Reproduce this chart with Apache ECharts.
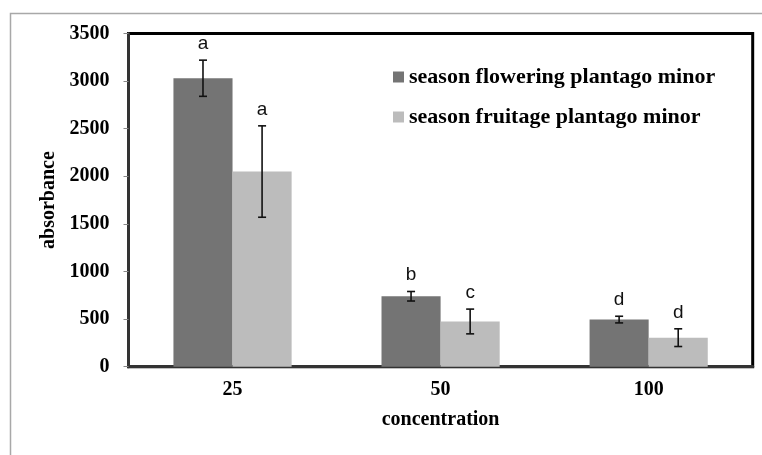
<!DOCTYPE html>
<html>
<head>
<meta charset="utf-8">
<script src="https://cdn.jsdelivr.net/npm/echarts@6/dist/echarts.min.js"></script>
<style>html,body{margin:0;padding:0;background:#fff}#c{width:762px;height:455px}</style>
</head>
<body>
<div id="c"></div>
<script>
var categories = ['25', '50', '100'];
var seriesNames = ['season flowering plantago minor', 'season fruitage plantago minor'];
var flowering = [3030, 740, 495];
var fruitage = [2050, 475, 305];
var floweringErr = [190, 50, 35];
var fruitageErr = [480, 130, 93];
var floweringLetters = ['a', 'b', 'd'];
var fruitageLetters = ['a', 'c', 'd'];
var yTicks = [0, 500, 1000, 1500, 2000, 2500, 3000, 3500];

var colors = ['#747474', '#bcbcbc'];
var serif = '"Liberation Serif", "Times New Roman", serif';

function errData(vals, errs, letters) {
  return vals.map(function (v, i) { return [i, v, errs[i], letters[i]]; });
}

function makeRender(side) {
  return function (params, api) {
    var idx = api.value(0);
    var v = api.value(1);
    var e = api.value(2);
    var letter = api.value(3);
    var band = api.size([1, 0])[0];
    var off = side * band * 0.142;
    var top = api.coord([idx, v + e]);
    var bot = api.coord([idx, v - e]);
    var x = top[0] + off;
    var cap = 4;
    var st = { stroke: '#111', lineWidth: 1.6 };
    return {
      type: 'group',
      children: [
        { type: 'line', shape: { x1: x, y1: top[1], x2: x, y2: bot[1] }, style: st },
        { type: 'line', shape: { x1: x - cap, y1: top[1], x2: x + cap, y2: top[1] }, style: st },
        { type: 'line', shape: { x1: x - cap, y1: bot[1], x2: x + cap, y2: bot[1] }, style: st },
        { type: 'text', style: { text: letter, x: x, y: top[1] - 7, textAlign: 'center', textVerticalAlign: 'bottom',
            font: '19px "Liberation Sans", Arial, sans-serif', fill: '#111' } }
      ]
    };
  };
}

var chart = echarts.init(document.getElementById('c'), null, { renderer: 'canvas' });
chart.setOption({
  backgroundColor: '#fff',
  animation: false,
  graphic: [{
    type: 'rect', left: 8, top: 11, shape: { x: 0, y: 0, width: 820, height: 520 },
    style: { fill: 'none', stroke: '#a8a8a8', lineWidth: 1.5 }, silent: true, z: -10
  }],
  grid: { left: 128.5, top: 33.5, right: 9.3, bottom: 88.3, show: true, borderColor: '#000', borderWidth: 3, backgroundColor: 'transparent' },
  legend: {
    orient: 'vertical', left: 393, top: 66, padding: 0, itemWidth: 11, itemHeight: 11, itemGap: 18, icon: 'rect',
    data: seriesNames,
    textStyle: { fontFamily: serif, fontWeight: 'bold', fontSize: 22, color: '#000', lineHeight: 22 }
  },
  xAxis: {
    type: 'category', data: categories,
    name: 'concentration', nameLocation: 'middle', nameGap: 43,
    nameTextStyle: { fontFamily: serif, fontWeight: 'bold', fontSize: 20, color: '#000' },
    axisLine: { lineStyle: { color: '#333', width: 3 } },
    axisTick: { length: 5, lineStyle: { color: '#888', width: 1 } },
    axisLabel: { margin: 13, fontFamily: serif, fontWeight: 'bold', fontSize: 20, color: '#000' }
  },
  yAxis: {
    type: 'value', min: yTicks[0], max: yTicks[yTicks.length - 1], interval: yTicks[1] - yTicks[0],
    name: 'absorbance', nameLocation: 'middle', nameGap: 69, nameRotate: 90,
    nameTextStyle: { fontFamily: serif, fontWeight: 'bold', fontSize: 20, color: '#000' },
    axisLine: { show: true, lineStyle: { color: '#333', width: 3 } },
    axisTick: { show: true, length: 5, lineStyle: { color: '#888', width: 1 } },
    splitLine: { show: false },
    axisLabel: { margin: 19, fontFamily: serif, fontWeight: 'bold', fontSize: 20, color: '#000',
      formatter: function (v) { return String(v); } }
  },
  series: [
    { name: seriesNames[0], type: 'bar', data: flowering, barWidth: '28.4%', barGap: '0%', itemStyle: { color: colors[0] } },
    { name: seriesNames[1], type: 'bar', data: fruitage, barWidth: '28.4%', barGap: '0%', itemStyle: { color: colors[1] } },
    { type: 'custom', renderItem: makeRender(-1), data: errData(flowering, floweringErr, floweringLetters), z: 5,
      encode: { x: 0, y: 1 } },
    { type: 'custom', renderItem: makeRender(1), data: errData(fruitage, fruitageErr, fruitageLetters), z: 5,
      encode: { x: 0, y: 1 } }
  ]
});
</script>
</body>
</html>
